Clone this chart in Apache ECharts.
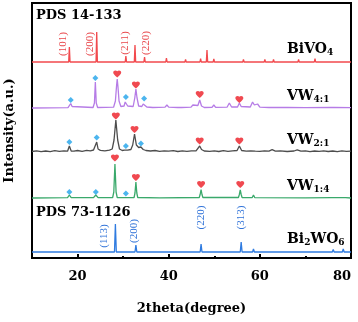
<!DOCTYPE html>
<html>
<head>
<meta charset="utf-8">
<script src="https://cdn.jsdelivr.net/npm/echarts@6/dist/echarts.min.js"></script>
<style>
  html, body { margin: 0; padding: 0; background: #fff; }
  #main { width: 358px; height: 322px; }
</style>
</head>
<body>
<div id="main"></div>
<script>
// 2theta range and tick marks
const xMin = 10
const xMax = 80
const majorTicks = [20, 40, 60, 80]
const minorTicks = [30, 50, 70]

// patterns, [2theta, relative intensity]
const bivo4 = [[10,0],[18.05,0],[18.2,15],[18.35,0],[24.05,0],[24.2,30],[24.35,0],[30.45,0],[30.6,6],[30.75,0],[32.45,0],[32.6,17],[32.75,0],[34.55,0],[34.7,5],[34.85,0],[36.95,0],[37.1,1.5],[37.25,0],[39.35,0],[39.5,4],[39.65,0],[43.55,0],[43.7,2.5],[43.85,0],[46.85,0],[47.0,3.5],[47.15,0],[48.25,0],[48.4,12],[48.55,0],[49.75,0],[49.9,3],[50.05,0],[53.55,0],[53.7,2],[53.85,0],[56.25,0],[56.4,2.5],[56.55,0],[60.95,0],[61.1,2.5],[61.25,0],[62.85,0],[63.0,2.5],[63.15,0],[68.35,0],[68.5,2.5],[68.65,0],[71.95,0],[72.1,3.5],[72.25,0],[78.75,0],[78.9,2],[79.05,0],[80,0]]

const vw41 = [[10,0],[17.9,0.3],[18.2,1.5],[18.5,4.5],[18.8,1.5],[19.1,0.3],[23.4,0.5],[23.7,5],[23.9,26],[24.1,5],[24.4,0.5],[27.9,0.8],[28.3,7],[28.55,22],[28.7,29],[28.85,22],[29.1,7],[29.5,1.5],[30.2,2],[30.45,6],[30.6,8],[30.75,6],[31.0,2],[32.2,1.5],[32.55,10],[32.8,19],[33.05,10],[33.4,2],[34.1,1.5],[34.4,4],[34.6,6],[34.8,4],[35.2,1],[36.5,0.5],[39.2,0.8],[39.6,3],[40.0,0.8],[42.0,0.5],[42.4,2],[42.8,0.5],[44.9,0.8],[45.3,3],[45.7,1.5],[46.4,2.5],[46.8,8],[47.2,2],[47.8,0.5],[49.5,0.6],[49.9,3],[50.3,0.6],[52.8,0.8],[53.3,5],[53.8,1],[55.1,1],[55.5,5],[55.9,1.5],[57.9,1],[58.4,6],[58.8,3],[59.5,4],[60,0.8],[62,0.5],[66,0.5],[70,0.3],[75.5,0.5],[75.9,2],[76.3,0.5],[80,0.3]]

const vw21 = [[10,0.5],[11,1.2],[12,0.3],[13,1],[14,0.4],[15,1.3],[16,0.6],[17,1.1],[17.8,0.8],[18.2,6],[18.6,1],[19.2,0.8],[20,1.5],[21,0.7],[22,1.6],[22.8,1.2],[23.5,2],[23.9,3],[24.2,10],[24.5,3],[25,1.6],[26,1.2],[27,1.8],[27.6,3],[28.0,12],[28.4,32],[28.8,12],[29.2,3],[29.8,1.5],[30.3,1.8],[30.6,2.5],[31,1.8],[31.7,2.5],[32.1,7],[32.5,18],[32.9,7],[33.4,4.5],[33.9,5],[34.4,2.5],[35,1.5],[36,1],[37,1.5],[38,0.6],[39,1.2],[40,0.8],[41,1.3],[42,0.5],[43,1.2],[44,0.7],[45,1.1],[46,1.2],[46.4,2.5],[46.8,6],[47.2,2.5],[47.8,1],[49,0.6],[50,1.2],[51,0.5],[52,1.4],[53,0.7],[54,1.1],[55,1.5],[55.5,6],[56,1.5],[57,0.8],[58,1.2],[59,0.8],[59.4,2],[60,0.6],[61,1.2],[62,0.8],[62.7,2.3],[63.4,0.8],[64.5,1.1],[66,0.5],[67.5,1],[68.2,2.2],[69,0.8],[70,1.2],[71,0.4],[72,1],[73,0.6],[74,1.1],[75,0.5],[76,1],[77,0.4],[78,1.1],[79,0.6],[80,0.9]]

const vw14 = [[10,0],[17.8,0.3],[18.2,3],[18.6,0.3],[23.5,0.3],[24.0,3],[24.5,0.3],[27.7,0.5],[27.95,6],[28.2,34],[28.45,6],[28.7,0.5],[30.3,0.3],[30.6,1.5],[30.9,0.3],[32.4,0.5],[32.6,5],[32.8,16],[33.0,5],[33.2,0.5],[38,0.2],[46.7,0.5],[46.9,3.5],[47.1,8.5],[47.3,3.5],[47.5,0.5],[55.3,0.5],[55.5,3.5],[55.7,8],[55.9,3.5],[56.1,0.5],[58.3,0.3],[58.6,3],[58.9,0.3],[70,0.2],[75.8,0.3],[76.1,2],[76.4,0.3],[78.2,0.3],[78.5,2],[78.8,0.3],[80,0]]

const bi2wo6 = [[10,0],[28.1,0],[28.3,28],[28.5,0],[32.6,0],[32.8,7],[33.0,0],[34.5,0],[34.7,1],[34.9,0],[36.0,0],[36.2,1],[36.4,0],[46.9,0],[47.1,8],[47.3,0],[55.7,0],[55.9,10],[56.1,0],[58.4,0],[58.6,3],[58.8,0],[69.0,0],[69.2,1],[69.4,0],[75.9,0],[76.1,2.5],[76.3,0],[78.1,0],[78.3,3],[78.5,0],[80,0]]

// phase markers: diamond = BiVO4, heart = Bi2WO6
const vw41Diamonds = [[18.5,8],[23.9,30],[30.6,11],[34.6,9.5]]
const vw41Hearts = [[28.7,34],[32.8,23],[46.8,13.5],[55.5,8.5]]
const vw21Diamonds = [[18.2,10],[24.2,14.5],[30.6,6],[33.9,8.5]]
const vw21Hearts = [[28.4,36],[32.5,22.5],[46.8,11],[55.5,11]]
const vw14Diamonds = [[18.2,6],[24.0,6],[30.6,4.5]]
const vw14Hearts = [[28.2,40],[32.8,20.5],[47.1,13.5],[55.7,13.5]]

// hkl labels
const bivo4Hkl = ['(101)', '(200)', '(211)', '(220)']
const bi2wo6Hkl = ['(113)', '(200)', '(220)', '(313)']

const offsets = { bivo4: 196, vw41: 150, vw21: 106, vw14: 60, bi2wo6: 6 }

const serif = 'DejaVu Serif'
const heart = 'path://M12,21.35l-1.45-1.32C5.4,15.36,2,12.28,2,8.5C2,5.42,4.42,3,7.5,3c1.74,0,3.41,0.81,4.5,2.09C13.09,3.81,14.76,3,16.5,3C19.58,3,22,5.42,22,8.5c0,3.78-3.4,6.86-8.55,11.54L12,21.35z'

const shift = (arr, off) => arr.map(p => [p[0], p[1] + off])

const lineSeries = (name, data, off, color) => ({
    name: name,
    type: 'line',
    data: shift(data, off),
    showSymbol: false,
    animation: false,
    lineStyle: { color: color, width: 1.3 },
    z: 2
})

const markSeries = (data, off, kind) => ({
    type: 'scatter',
    data: shift(data, off),
    symbol: kind === 'heart' ? heart : 'diamond',
    symbolSize: kind === 'heart' ? [8, 7] : 6,
    itemStyle: { color: kind === 'heart' ? '#ec1c24' : '#1fa3ea' },
    animation: false,
    z: 3
})

const rich = {
    m: { fontFamily: serif, fontWeight: 'bold', fontSize: 14, lineHeight: 17, color: '#000' },
    s: { fontFamily: serif, fontWeight: 'bold', fontSize: 9, lineHeight: 10, verticalAlign: 'bottom', color: '#000' }
}
const sampleLabel = (text, y) => ({
    type: 'text', x: 287, y: y,
    style: { text: text, rich: rich, textAlign: 'left', textVerticalAlign: 'middle' }
})
const plainLabel = (text, x, y) => ({
    type: 'text', x: x, y: y,
    style: { text: text, font: 'bold 13px "DejaVu Serif"', fill: '#000', textAlign: 'left', textVerticalAlign: 'middle' }
})
const hklLabel = (text, x, y, color) => ({
    type: 'text', x: x, y: y, rotation: Math.PI / 2,
    style: { text: text, font: '11px "Liberation Serif"', fill: color, textAlign: 'center', textVerticalAlign: 'middle' }
})

let chart = echarts.init(document.getElementById('main'))
const option = {
    animation: false,
    grid: {
        left: 32, right: 7, top: 3, bottom: 64,
        outerBoundsMode: 'none',
        containLabel: false,
        show: true, borderColor: '#000', borderWidth: 2
    },
    xAxis: [{
        type: 'value',
        min: xMin,
        max: xMax,
        name: '2theta(degree)',
        nameLocation: 'middle',
        nameGap: 44,
        nameTextStyle: { fontFamily: serif, fontWeight: 'bold', fontSize: 13, color: '#000' },
        axisLine: { show: false },
        axisTick: { inside: true, length: 4, lineStyle: { color: '#000', width: 2 }, customValues: majorTicks },
        axisLabel: { customValues: majorTicks, alignMaxLabel: 'right', margin: 12, fontFamily: serif, fontWeight: 'bold', fontSize: 13, color: '#000' },
        splitLine: { show: false }
    }, {
        type: 'value',
        min: xMin,
        max: xMax,
        position: 'bottom',
        axisLine: { show: false },
        axisTick: { inside: true, length: 2, lineStyle: { color: '#000', width: 2 }, customValues: minorTicks },
        axisLabel: { show: false },
        splitLine: { show: false }
    }],
    yAxis: {
        type: 'value',
        min: 0,
        max: 255,
        name: 'Intensity(a.u.)',
        nameLocation: 'middle',
        nameRotate: 90,
        nameGap: 16,
        nameTextStyle: { fontFamily: serif, fontWeight: 'bold', fontSize: 13, color: '#000' },
        axisLine: { show: false },
        axisTick: { show: false },
        axisLabel: { show: false },
        splitLine: { show: false }
    },
    series: [
        lineSeries('BiVO4', bivo4, offsets.bivo4, '#f2494d'),
        lineSeries('VW4:1', vw41, offsets.vw41, '#b67ce6'),
        lineSeries('VW2:1', vw21, offsets.vw21, '#4d4d4d'),
        lineSeries('VW1:4', vw14, offsets.vw14, '#3aa96b'),
        lineSeries('Bi2WO6', bi2wo6, offsets.bi2wo6, '#2f7be0'),
        markSeries(vw41Diamonds, offsets.vw41, 'diamond'),
        markSeries(vw41Hearts, offsets.vw41, 'heart'),
        markSeries(vw21Diamonds, offsets.vw21, 'diamond'),
        markSeries(vw21Hearts, offsets.vw21, 'heart'),
        markSeries(vw14Diamonds, offsets.vw14, 'diamond'),
        markSeries(vw14Hearts, offsets.vw14, 'heart')
    ],
    graphic: [
        plainLabel('PDS 14-133', 36, 16),
        plainLabel('PDS 73-1126', 36, 213),
        sampleLabel('{m|BiVO}{s|4}', 49),
        sampleLabel('{m|VW}{s|4:1}', 96),
        sampleLabel('{m|VW}{s|2:1}', 140),
        sampleLabel('{m|VW}{s|1:4}', 186),
        sampleLabel('{m|Bi}{s|2}{m|WO}{s|6}', 239),
        hklLabel(bivo4Hkl[0], 63, 44, '#e8474b'),
        hklLabel(bivo4Hkl[1], 90, 44, '#e8474b'),
        hklLabel(bivo4Hkl[2], 125.5, 43, '#e8474b'),
        hklLabel(bivo4Hkl[3], 146, 43, '#e8474b'),
        hklLabel(bi2wo6Hkl[0], 104, 236, '#2f72d8'),
        hklLabel(bi2wo6Hkl[1], 134, 231, '#2f72d8'),
        hklLabel(bi2wo6Hkl[2], 201.5, 217.5, '#2f72d8'),
        hklLabel(bi2wo6Hkl[3], 241.5, 217.5, '#2f72d8')
    ]
}
chart.setOption(option)
</script>
</body>
</html>
